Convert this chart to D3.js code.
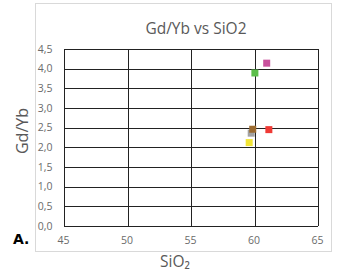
<!DOCTYPE html>
<html lang="en">
<head>
  <meta charset="UTF-8">
  <title>Gd/Yb vs SiO2</title>
  <script src="https://d3js.org/d3.v7.min.js"></script>
  <style>
    body { margin: 0; background: #fff; font-family: 'Open Sans', 'Lato', sans-serif; }
    .grid line { stroke: #222; stroke-width: 1; shape-rendering: crispEdges; }
    .tick-label { font-size: 10.5px; fill: #6b6b6b; }
  </style>
</head>
<body>
  <svg width="339" height="272"></svg>
  <script>
    // data
    const samples = ["gray", "brown", "yellow", "red", "green", "magenta"];
    const sio2 = [59.78, 59.9, 59.62, 61.17, 60.07, 61.0];
    const gdyb = [2.36, 2.46, 2.12, 2.45, 3.89, 4.14];
    const colors = ["#a3a3a3", "#9c6b30", "#f2e535", "#ef3a35", "#5cbf4b", "#c9519d"];
    const xTicks = [45, 50, 55, 60, 65];
    const yTicks = [0, 0.5, 1, 1.5, 2, 2.5, 3, 3.5, 4, 4.5];

    const svg = d3.select("svg");
    const margin = { left: 63.5, right: 21.5, top: 49, bottom: 46 };
    const width = 339 - margin.left - margin.right,
      height = 272 - margin.top - margin.bottom;

    // chart frame
    svg.append("rect")
      .attr("x", 35.5).attr("y", 3.5)
      .attr("width", 296).attr("height", 248)
      .attr("fill", "#fff").attr("stroke", "#d9d9d9");

    const x = d3.scaleLinear().domain([45, 65]).range([0, width]);
    const y = d3.scaleLinear().domain([0, 4.5]).range([height, 0]);

    const g = svg.append("g").attr("transform", `translate(${margin.left},${margin.top})`);

    const grid = g.append("g").attr("class", "grid");
    grid.selectAll(".h").data(yTicks).enter().append("line")
      .attr("x1", 0).attr("x2", width)
      .attr("y1", d => Math.round(y(d)) + 0.5).attr("y2", d => Math.round(y(d)) + 0.5);
    grid.selectAll(".v").data(xTicks).enter().append("line")
      .attr("y1", 0).attr("y2", height)
      .attr("x1", d => Math.round(x(d)) + 0.5).attr("x2", d => Math.round(x(d)) + 0.5);

    // tick labels
    g.selectAll(".ylab").data(yTicks).enter().append("text")
      .attr("class", "tick-label")
      .attr("x", -11).attr("y", d => y(d) + 3.5)
      .attr("text-anchor", "end")
      .text(d => d3.format(".1f")(d).replace(".", ","));
    g.selectAll(".xlab").data(xTicks).enter().append("text")
      .attr("class", "tick-label")
      .attr("x", d => x(d)).attr("y", height + 18)
      .attr("text-anchor", "middle")
      .text(d => d);

    // points
    g.selectAll(".pt").data(samples).enter().append("rect")
      .attr("x", (d, i) => x(sio2[i]) - 3.5)
      .attr("y", (d, i) => y(gdyb[i]) - 3.5)
      .attr("width", 7).attr("height", 7)
      .attr("fill", (d, i) => colors[i]);

    // title and axis labels
    svg.append("text")
      .attr("x", 196).attr("y", 34)
      .attr("text-anchor", "middle")
      .style("font-size", "15.5px").style("fill", "#595959")
      .text("Gd/Yb vs SiO2");

    svg.append("text")
      .attr("transform", "rotate(-90)")
      .attr("x", -131).attr("y", 28)
      .attr("text-anchor", "middle")
      .style("font-size", "16px").style("fill", "#595959")
      .text("Gd/Yb");

    svg.append("text")
      .attr("x", 175).attr("y", 267)
      .attr("text-anchor", "middle")
      .style("font-size", "15.5px").style("fill", "#595959")
      .text("SiO₂");

    svg.append("text")
      .attr("x", 13).attr("y", 244)
      .style("font-size", "14px").style("font-weight", "bold")
      .style("font-family", "'DejaVu Sans', sans-serif")
      .style("fill", "#000")
      .text("A.");
  </script>
</body>
</html>
